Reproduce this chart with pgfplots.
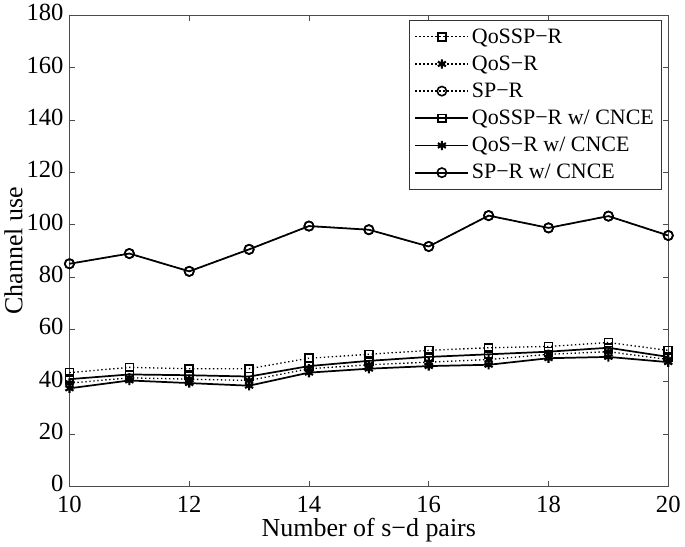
\documentclass[border=0pt]{standalone}
\usepackage{fontspec}
\setmainfont{Liberation Serif}
\usepackage{pgfplots}
\pgfplotsset{compat=1.18}
\begin{document}
\begin{tikzpicture}
\begin{axis}[
  scale only axis,
  width=450pt, height=354pt,
  xmin=10, xmax=20, ymin=0, ymax=180,
  xtick={10,12,...,20}, ytick={0,20,...,180},
  tick align=inside,
  major tick length=4pt,
  axis line style={black!70, line width=0.6pt},
  tick style={black!70, line width=0.6pt},
  /pgf/number format/assume math mode=true,
  ticklabel style={font=\fontsize{18.5}{20}\selectfont},
  xticklabel style={yshift=-4pt},
  yticklabel style={xshift=-1pt, yshift=2pt},
  xlabel={Number of s−d pairs},
  ylabel={Channel use},
  label style={font=\fontsize{19.5}{22}\selectfont},
  xlabel style={yshift=3pt},
  ylabel style={yshift=-4pt},
  legend cell align=left,
  legend style={font=\fontsize{16.5}{19}\selectfont, draw=black!80, line width=0.6pt, row sep=4pt, inner sep=4pt, at={(0.99,0.99)}, anchor=north east},
  legend image code/.code={\draw[mark repeat=2,mark phase=2,#1] plot coordinates {(0cm,0cm)(0.7cm,0cm)(1.4cm,0cm)};},
]
\addplot[black, dotted, line width=1pt, mark=square, mark size=3pt, mark options={solid, line width=1.2pt}] coordinates {
(10,43.5)(11,45.5)(12,45)(13,45)(14,49)(15,50.5)(16,52)(17,53)(18,53.5)(19,55)(20,52)};
\addlegendentry{QoSSP−R}
\addplot[black, dotted, line width=1pt, mark=asterisk, mark size=3.5pt, mark options={solid, line width=1.6pt}] coordinates {
(10,39.5)(11,41.5)(12,41)(13,40.5)(14,45)(15,46.5)(16,47.5)(17,48.5)(18,50.5)(19,51.5)(20,48.5)};
\addlegendentry{QoS−R}
\addplot[black, dotted, line width=1pt, mark=o, mark size=3.5pt, mark options={solid, line width=1.2pt}] coordinates {
(10,85.1)(11,89)(12,82.2)(13,90.6)(14,99.5)(15,98.1)(16,91.7)(17,103.5)(18,98.8)(19,103.3)(20,95.9)};
\addlegendentry{SP−R}
\addplot[black, solid, line width=1.3pt, mark=square, mark size=3pt, mark options={solid, line width=1.2pt}] coordinates {
(10,41)(11,42.8)(12,42.5)(13,42)(14,46)(15,48)(16,49.5)(17,50.5)(18,51.5)(19,53)(20,49.5)};
\addlegendentry{QoSSP−R w/ CNCE}
\addplot[black, solid, line width=1.3pt, mark=asterisk, mark size=3.5pt, mark options={solid, line width=1.6pt}] coordinates {
(10,37.5)(11,40.5)(12,39.5)(13,38.5)(14,43.5)(15,45)(16,46)(17,46.5)(18,49)(19,49.5)(20,47.5)};
\addlegendentry{QoS−R w/ CNCE}
\addplot[black, solid, line width=1.3pt, mark=o, mark size=3.5pt, mark options={solid, line width=1.2pt}] coordinates {
(10,85.1)(11,89)(12,82.2)(13,90.6)(14,99.5)(15,98.1)(16,91.7)(17,103.5)(18,98.8)(19,103.3)(20,95.9)};
\addlegendentry{SP−R w/ CNCE}
\end{axis}
\end{tikzpicture}
\end{document}
